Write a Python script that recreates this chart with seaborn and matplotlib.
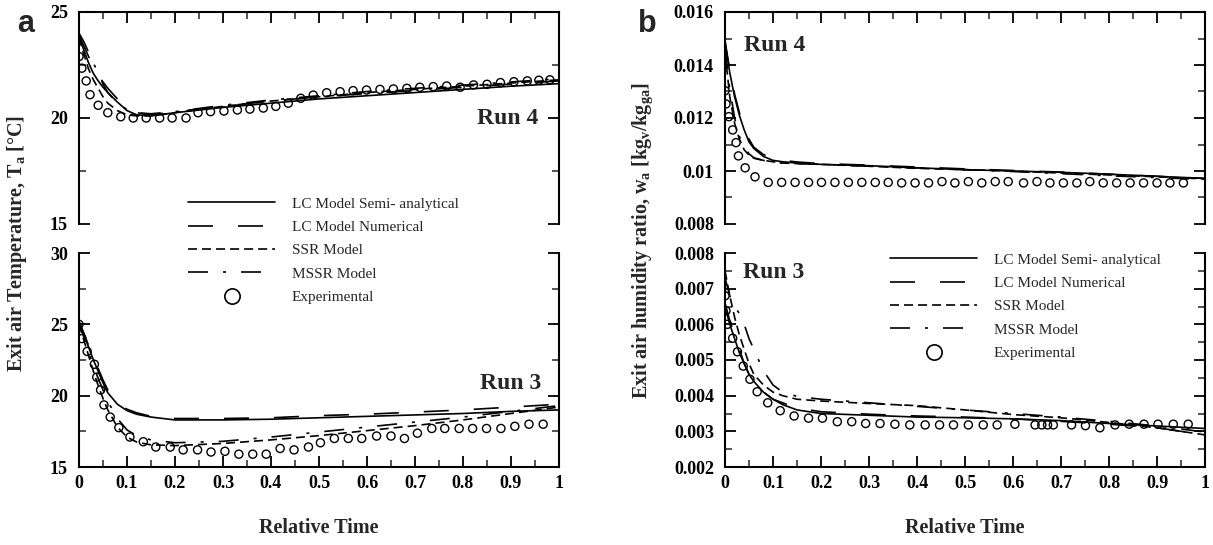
import seaborn as sns
import matplotlib.pyplot as plt
from matplotlib.lines import Line2D
from matplotlib.ticker import MultipleLocator, FuncFormatter

# relative time grid of the model curves
model_t = [0, 0.01, 0.02, 0.03, 0.04, 0.05, 0.06, 0.08, 0.1, 0.12, 0.15, 0.2,
           0.3, 0.4, 0.5, 0.6, 0.7, 0.8, 0.9, 1.0]

## (a) exit air temperature
# Run 4
t4_semi = [23.9, 23.2, 22.6, 22.1, 21.75, 21.45, 21.2, 20.75, 20.35, 20.15, 20.1, 20.25,
           20.5, 20.7, 20.9, 21.05, 21.2, 21.35, 21.5, 21.62]
t4_num = [23.9, 23.4, 22.9, 22.4, 22.0, 21.7, 21.4, 20.9, 20.5, 20.25, 20.15, 20.3,
          20.55, 20.8, 21.0, 21.15, 21.3, 21.45, 21.6, 21.75]
t4_ssr = [23.8, 23.0, 22.3, 21.8, 21.4, 21.0, 20.7, 20.35, 20.15, 20.1, 20.1, 20.25,
          20.55, 20.8, 21.0, 21.2, 21.35, 21.5, 21.65, 21.8]
t4_mssr = [24.0, 23.6, 23.1, 22.6, 22.1, 21.6, 21.2, 20.7, 20.4, 20.25, 20.2, 20.3,
           20.6, 20.85, 21.05, 21.25, 21.4, 21.55, 21.7, 21.85]
t4_exp_t = [0, 0.006, 0.015, 0.023, 0.04, 0.06, 0.087, 0.113, 0.14, 0.168, 0.194, 0.223,
            0.248, 0.274, 0.302, 0.33, 0.356, 0.384, 0.41, 0.436, 0.462, 0.488, 0.516,
            0.544, 0.571, 0.599, 0.627, 0.655, 0.683, 0.71, 0.738, 0.766, 0.794, 0.822,
            0.85, 0.878, 0.906, 0.934, 0.958, 0.981]
t4_exp = [22.9, 22.35, 21.75, 21.1, 20.6, 20.25, 20.06, 20.0, 20.0, 20.0, 20.0, 20.0,
          20.25, 20.3, 20.33, 20.38, 20.42, 20.47, 20.55, 20.7, 20.93, 21.08, 21.19,
          21.24, 21.29, 21.32, 21.35, 21.37, 21.4, 21.45, 21.48, 21.51, 21.45, 21.56,
          21.59, 21.67, 21.71, 21.75, 21.78, 21.8]
# Run 3
t3_semi = [25.2, 24.3, 23.4, 22.5, 21.7, 20.9, 20.2, 19.4, 18.95, 18.7, 18.5, 18.3,
           18.3, 18.35, 18.45, 18.55, 18.65, 18.75, 18.9, 19.0]
t3_num = [25.2, 24.4, 23.5, 22.7, 21.9, 21.1, 20.4, 19.5, 19.05, 18.8, 18.55, 18.4,
          18.4, 18.45, 18.6, 18.7, 18.85, 19.0, 19.2, 19.4]
t3_ssr = [25.0, 23.9, 22.8, 21.7, 20.7, 19.8, 19.0, 17.8, 17.1, 16.75, 16.55, 16.5,
          16.65, 16.9, 17.2, 17.55, 17.9, 18.3, 18.75, 19.2]
t3_mssr = [25.1, 24.1, 23.1, 22.1, 21.2, 20.4, 19.6, 18.4, 17.6, 17.2, 16.9, 16.7,
           16.8, 17.1, 17.45, 17.8, 18.15, 18.5, 18.9, 19.3]
t3_exp_t = [0, 0.006, 0.017, 0.032, 0.037, 0.045, 0.052, 0.065, 0.083, 0.106, 0.134,
            0.16, 0.19, 0.217, 0.247, 0.275, 0.304, 0.333, 0.362, 0.39, 0.419, 0.448,
            0.478, 0.503, 0.532, 0.561, 0.589, 0.62, 0.65, 0.678, 0.705, 0.735, 0.762,
            0.792, 0.82, 0.849, 0.879, 0.908, 0.9375, 0.967]
t3_exp = [25.0, 24.0, 23.1, 22.2, 21.3, 20.4, 19.35, 18.5, 17.76, 17.1, 16.77, 16.4,
          16.4, 16.2, 16.2, 16.05, 16.1, 15.9, 15.9, 15.9, 16.3, 16.2, 16.4, 16.7, 17.0,
          17.0, 17.0, 17.17, 17.17, 17.0, 17.37, 17.7, 17.7, 17.7, 17.7, 17.7, 17.7,
          17.85, 18.0, 18.0]

## (b) exit air humidity ratio
# Run 4
w4_semi = [0.0149, 0.0137, 0.0128, 0.0121, 0.01155, 0.0111, 0.01085, 0.01055, 0.0104,
           0.01035, 0.0103, 0.01025, 0.0102, 0.01012, 0.01005, 0.01, 0.00995, 0.00988,
           0.0098, 0.00972]
w4_num = [0.0149, 0.0138, 0.0129, 0.0122, 0.0116, 0.0112, 0.0109, 0.01062, 0.01048,
          0.0104, 0.01034, 0.01028, 0.01022, 0.01015, 0.01008, 0.01002, 0.00996,
          0.00988, 0.0098, 0.00972]
w4_ssr = [0.0145, 0.0128, 0.0118, 0.0112, 0.0108, 0.0106, 0.01048, 0.0104, 0.01035,
          0.0103, 0.01028, 0.01025, 0.01018, 0.0101, 0.01005, 0.01, 0.00992, 0.00985,
          0.00978, 0.0097]
w4_mssr = [0.0146, 0.0131, 0.012, 0.0113, 0.0109, 0.01065, 0.0105, 0.0104, 0.01035,
           0.0103, 0.01028, 0.01025, 0.01018, 0.01012, 0.01005, 0.00998, 0.0099,
           0.00982, 0.00975, 0.00968]
w4_exp_t = [0, 0.002, 0.008, 0.016, 0.023, 0.028, 0.042, 0.0625, 0.09, 0.118, 0.146,
            0.174, 0.201, 0.229, 0.257, 0.285, 0.313, 0.34, 0.368, 0.396, 0.424, 0.452,
            0.479, 0.507, 0.535, 0.563, 0.59, 0.622, 0.65, 0.677, 0.705, 0.733, 0.76,
            0.788, 0.816, 0.844, 0.872, 0.9, 0.927, 0.955]
w4_exp = [0.01303, 0.01253, 0.01205, 0.01155, 0.01107, 0.01057, 0.01012, 0.00978,
          0.00957, 0.00957, 0.00957, 0.00957, 0.00957, 0.00957, 0.00957, 0.00957,
          0.00957, 0.00957, 0.00955, 0.00955, 0.00955, 0.0096, 0.00955, 0.0096,
          0.00955, 0.0096, 0.0096, 0.00955, 0.0096, 0.00955, 0.00955, 0.00955,
          0.0096, 0.00955, 0.00955, 0.00955, 0.00955, 0.00955, 0.00955, 0.00955]
# Run 3
w3_semi = [0.0065, 0.006, 0.0056, 0.0052, 0.0049, 0.0046, 0.0044, 0.0041, 0.0039,
           0.00375, 0.0036, 0.0035, 0.00345, 0.0034, 0.00338, 0.00335, 0.0033,
           0.00322, 0.00315, 0.00308]
w3_num = [0.0066, 0.0061, 0.0057, 0.0053, 0.0049, 0.0046, 0.0044, 0.0041, 0.0039,
          0.0038, 0.00365, 0.00355, 0.00348, 0.00343, 0.0034, 0.00335, 0.00328,
          0.0032, 0.0031, 0.0029]
w3_ssr = [0.0075, 0.0068, 0.0062, 0.0057, 0.0053, 0.0049, 0.0046, 0.0043, 0.0041,
          0.004, 0.0039, 0.00385, 0.00378, 0.00372, 0.0036, 0.00347, 0.00338, 0.00325,
          0.0031, 0.0029]
w3_mssr = [0.0073, 0.0068, 0.0065, 0.0063, 0.006, 0.0056, 0.0053, 0.0047, 0.0043,
           0.0041, 0.00398, 0.0039, 0.0038, 0.0037, 0.0036, 0.0035, 0.0034, 0.00328,
           0.00315, 0.00298]
w3_exp_t = [0, 0.002, 0.005, 0.016, 0.026, 0.038, 0.052, 0.067, 0.089, 0.115, 0.144,
            0.174, 0.203, 0.234, 0.264, 0.293, 0.323, 0.354, 0.385, 0.417, 0.447,
            0.476, 0.507, 0.538, 0.567, 0.604, 0.646, 0.66, 0.672, 0.684, 0.722, 0.751,
            0.781, 0.8125, 0.842, 0.873, 0.902, 0.934, 0.965]
w3_exp = [0.0068, 0.00638, 0.006, 0.00561, 0.00523, 0.00483, 0.00446, 0.00411, 0.0038,
          0.00358, 0.00343, 0.00337, 0.00337, 0.00327, 0.00327, 0.00322, 0.00322,
          0.0032, 0.00318, 0.00318, 0.00318, 0.00318, 0.00318, 0.00318, 0.00318,
          0.0032, 0.00318, 0.00318, 0.00318, 0.00318, 0.00318, 0.00316, 0.0031,
          0.00318, 0.0032, 0.0032, 0.0032, 0.0032, 0.0032]

model_names = ['LC Model Semi- analytical', 'LC Model Numerical', 'SSR Model', 'MSSR Model']
model_styles = ['-', (0, (18, 18)), (0, (6.5, 3.6)), (0, (14.4, 10.8, 2.2, 10.8))]

sns.set_style("ticks")
plt.rcParams['font.family'] = ['Liberation Serif', 'DejaVu Serif']
plt.rcParams['font.weight'] = 'bold'
plt.rcParams['mathtext.fontset'] = 'custom'
plt.rcParams['mathtext.rm'] = 'Liberation Serif:bold'
plt.rcParams['mathtext.it'] = 'Liberation Serif:bold'
plt.rcParams['mathtext.default'] = 'rm'
plt.rcParams['lines.scale_dashes'] = False

W, H = 1213, 545
fig = plt.figure(figsize=(W / 100, H / 100), dpi=100)


def px_axes(x0, x1, ytop, ybot):
    return fig.add_axes([x0 / W, 1 - ybot / H, (x1 - x0) / W, (ybot - ytop) / H])


def draw_run(ax, curves, exp_t, exp_v):
    for vals, ls in zip(curves, model_styles):
        sns.lineplot(x=model_t, y=vals, ax=ax, color='black', linewidth=1.2,
                     linestyle=ls, legend=False)
    sns.scatterplot(x=exp_t, y=exp_v, ax=ax, marker='o', s=34, facecolor='none',
                    edgecolor='black', linewidth=1.0, legend=False)


def style_axes(ax, ylim, major, minor, top):
    ax.set_xlim(0, 1)
    ax.set_ylim(*ylim)
    ax.xaxis.set_major_locator(MultipleLocator(0.1))
    ax.xaxis.set_minor_locator(MultipleLocator(0.05))
    ax.yaxis.set_major_locator(MultipleLocator(major))
    ax.yaxis.set_minor_locator(MultipleLocator(minor))
    fmt = FuncFormatter(lambda v, p: f'{v:g}')
    ax.xaxis.set_major_formatter(fmt)
    ax.yaxis.set_major_formatter(fmt)
    for s in ax.spines.values():
        s.set_linewidth(1.5)
        s.set_color('black')
    if top:
        ax.spines['bottom'].set_visible(False)
        ax.tick_params(axis='x', which='both', direction='in', top=True, bottom=False,
                       labelbottom=False)
    else:
        ax.spines['top'].set_visible(False)
        ax.tick_params(axis='x', which='both', direction='in', top=False, bottom=True,
                       labelbottom=True)
    ax.tick_params(axis='y', which='both', direction='in', left=True, right=True)
    ax.tick_params(which='major', length=8, width=1.3, labelsize=13, pad=8,
                   colors='black')
    ax.tick_params(which='minor', length=5, width=1.1)
    ax.tick_params(axis='x', pad=6)
    ax.set_xlabel('')
    ax.set_ylabel('')


# left panel (a)
ax_a4 = px_axes(79, 559, 12, 224)
ax_a3 = px_axes(79, 559, 253, 467)
# right panel (b)
ax_b4 = px_axes(725, 1205, 12, 224)
ax_b3 = px_axes(725, 1205, 253, 467)

draw_run(ax_a4, [t4_semi, t4_num, t4_ssr, t4_mssr], t4_exp_t, t4_exp)
draw_run(ax_a3, [t3_semi, t3_num, t3_ssr, t3_mssr], t3_exp_t, t3_exp)
draw_run(ax_b4, [w4_semi, w4_num, w4_ssr, w4_mssr], w4_exp_t, w4_exp)
draw_run(ax_b3, [w3_semi, w3_num, w3_ssr, w3_mssr], w3_exp_t, w3_exp)

style_axes(ax_a4, (15, 25), 5, 2.5, True)
style_axes(ax_a3, (15, 30), 5, 2.5, False)
style_axes(ax_b4, (0.008, 0.016), 0.002, 0.001, True)
style_axes(ax_b3, (0.002, 0.008), 0.001, 0.0005, False)

# run labels
ax_a4.text(0.956, 0.5, 'Run 4', transform=ax_a4.transAxes, ha='right', va='center', size=17)
ax_a3.text(0.964, 0.391, 'Run 3', transform=ax_a3.transAxes, ha='right', va='center', size=17)
ax_b4.text(0.04, 0.844, 'Run 4', transform=ax_b4.transAxes, ha='left', va='center', size=17)
ax_b3.text(0.037, 0.908, 'Run 3', transform=ax_b3.transAxes, ha='left', va='center', size=17)

# axis titles
fig.text(319 / W, 1 - 528 / H, 'Relative Time', ha='center', va='center', size=14.5)
fig.text(965 / W, 1 - 528 / H, 'Relative Time', ha='center', va='center', size=14.5)
fig.text(17 / W, 1 - 243 / H, 'Exit air Temperature, T$_a$ [°C]', rotation=90,
         ha='center', va='center', size=14.5)
fig.text(643 / W, 1 - 241 / H, 'Exit air humidity ratio, w$_a$ [kg$_v$/kg$_{ga}$]',
         rotation=90, ha='center', va='center', size=14.5)

# panel letters
fig.text(17 / W, 1 - 32.5 / H, 'a', family='Liberation Sans', weight='bold', size=22,
         ha='left', va='baseline')
fig.text(638 / W, 1 - 32.5 / H, 'b', family='Liberation Sans', weight='bold', size=22,
         ha='left', va='baseline')

# legends
handles = [Line2D([], [], color='black', linewidth=1.2, linestyle=ls) for ls in model_styles]
handles.append(Line2D([], [], linestyle='none', marker='o', markersize=11,
                      markerfacecolor='none', markeredgecolor='black', markeredgewidth=1.2))
labels = model_names + ['Experimental']
leg_kw = dict(frameon=False, loc='upper left', handlelength=5.7, handletextpad=1.1,
              labelspacing=0.63, borderpad=0, borderaxespad=0,
              prop={'family': 'Liberation Serif', 'weight': 'normal', 'size': 11})
fig.legend(handles, labels, bbox_to_anchor=(188 / W, 1 - 197 / H), **leg_kw)
fig.legend(handles, labels, bbox_to_anchor=(890 / W, 1 - 253 / H), **leg_kw)

fig.savefig('out.png', dpi=100)
